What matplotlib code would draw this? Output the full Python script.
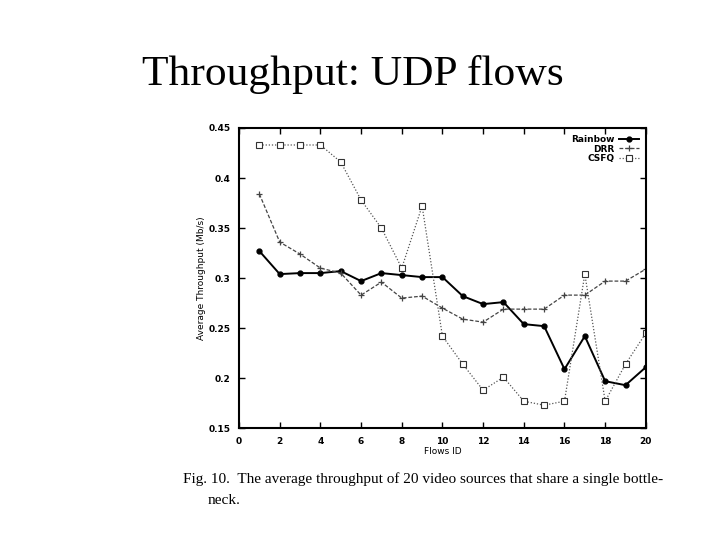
import matplotlib
matplotlib.use("Agg")
import matplotlib.pyplot as plt

flows = list(range(1, 21))
rainbow = [0.327, 0.304, 0.305, 0.305, 0.307, 0.297, 0.305, 0.303, 0.301, 0.301,
           0.282, 0.274, 0.276, 0.254, 0.252, 0.209, 0.242, 0.197, 0.193, 0.211]
drr = [0.384, 0.336, 0.324, 0.310, 0.305, 0.283, 0.296, 0.280, 0.282, 0.270,
       0.259, 0.256, 0.269, 0.269, 0.269, 0.283, 0.283, 0.297, 0.297, 0.309]
csfq = [0.433, 0.433, 0.433, 0.433, 0.416, 0.378, 0.350, 0.310, 0.372, 0.242,
        0.214, 0.188, 0.201, 0.177, 0.173, 0.177, 0.304, 0.177, 0.214, 0.245]
xticks = list(range(0, 21, 2))
yticks = [0.15, 0.2, 0.25, 0.3, 0.35, 0.4, 0.45]
ytick_labels = ["0.15", "0.2", "0.25", "0.3", "0.35", "0.4", "0.45"]

fig = plt.figure(figsize=(7.2, 5.4), dpi=100)
fig.text(0.49, 0.862, "Throughput: UDP flows", family="Liberation Serif",
         fontsize=31.3, ha="center", va="center")

ax = fig.add_axes([0.332, 0.207, 0.565, 0.556])
ax.plot(flows, rainbow, color="black", lw=1.4, marker="o", ms=3.5,
        label="Rainbow")
ax.plot(flows, drr, color="#444444", lw=0.9, ls=(0, (3, 1.5)), marker="+",
        ms=4, mew=0.9, label="DRR")
ax.plot(flows, csfq, color="#555555", lw=0.9, ls=(0, (1, 1.5)), marker="s",
        ms=4, mfc="white", mec="#333333", mew=0.8, label="CSFQ")

ax.set_xlim(0, 20)
ax.set_ylim(0.15, 0.45)
ax.set_xticks(xticks)
ax.set_yticks(yticks)
ax.set_yticklabels(ytick_labels)
ax.tick_params(direction="in", top=True, right=True, labelsize=6.5,
               length=4, width=1, pad=6)
for lab in ax.get_xticklabels() + ax.get_yticklabels():
    lab.set_fontweight("bold")
for s in ax.spines.values():
    s.set_linewidth(1.5)
ax.set_xlabel("Flows ID", fontsize=6.5, labelpad=1)
ax.set_ylabel("Average Throughput (Mb/s)", fontsize=6.5, labelpad=2)

leg = ax.legend(loc="upper right", frameon=False, markerfirst=False,
                fontsize=6.5, handlelength=2.2, labelspacing=0.05,
                borderaxespad=0.4, handletextpad=0.5)
for t in leg.get_texts():
    t.set_fontweight("bold")
    t.set_ha("right")

fig.text(0.254, 0.113,
         "Fig. 10.  The average throughput of 20 video sources that share a single bottle-",
         family="Liberation Serif", fontsize=11, ha="left", va="center")
fig.text(0.289, 0.073, "neck.", family="Liberation Serif", fontsize=11,
         ha="left", va="center")

fig.savefig("out.png", dpi=100)
